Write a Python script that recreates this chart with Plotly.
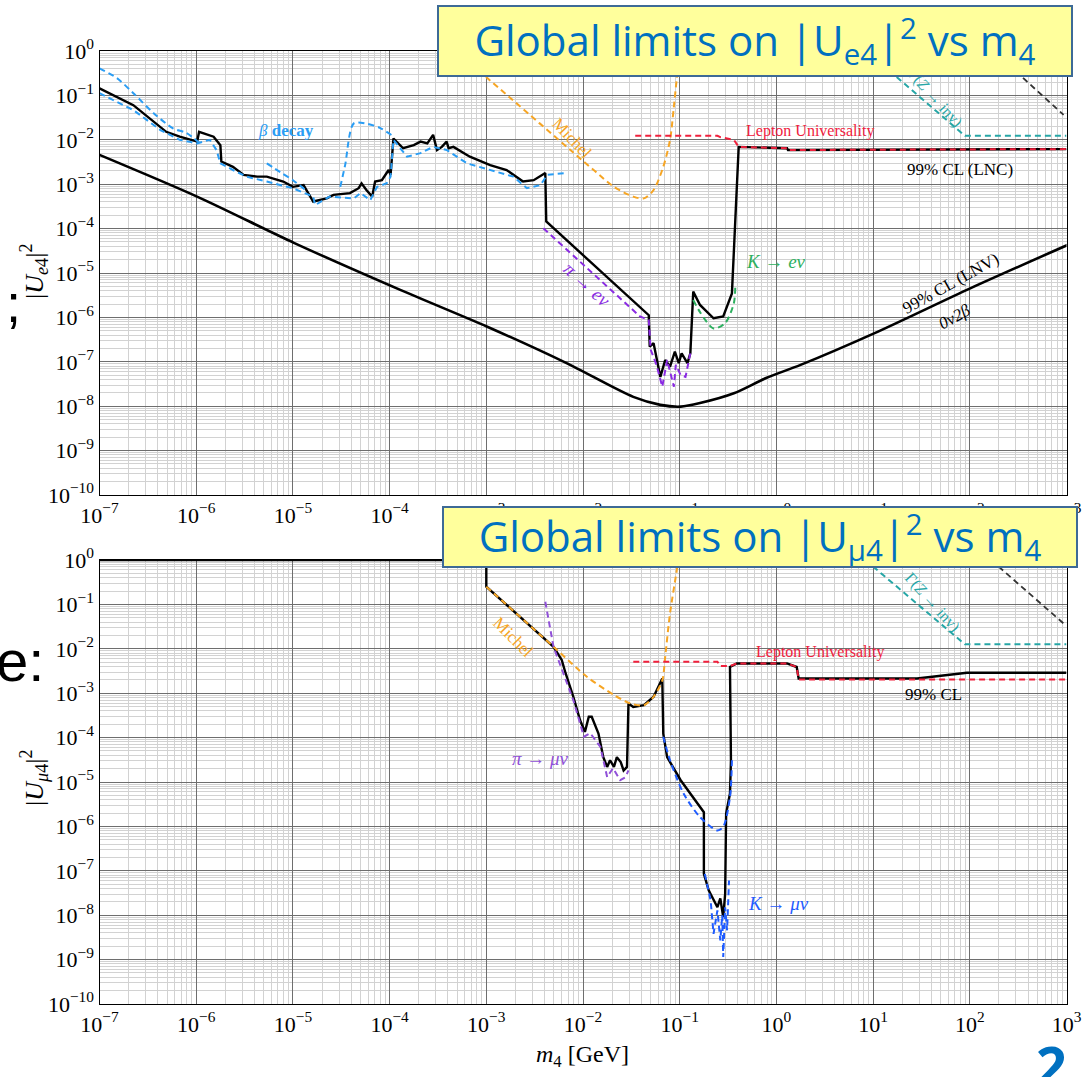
import numpy as np
import plotly.graph_objects as go

W, H = 1086, 1077

# ---------------- DATA (log10 m4 [GeV], log10 |U|^2) ----------------
# Top panel: |U_e4|^2
e_lnc = [(-7.0,-0.84),(-6.65,-1.22),(-6.31,-1.82),(-6.17,-1.93),(-5.99,-2.04),(-5.97,-1.82),
         (-5.82,-1.93),(-5.75,-2.12),(-5.74,-2.49),(-5.62,-2.61),(-5.51,-2.79),(-5.37,-2.83),
         (-5.27,-2.83),(-5.10,-2.94),(-5.00,-3.06),(-4.89,-3.02),(-4.79,-3.39),(-4.65,-3.32),
         (-4.58,-3.24),(-4.41,-3.20),(-4.32,-3.09),(-4.29,-2.98),(-4.24,-3.13),(-4.18,-3.28),
         (-4.15,-2.94),(-4.08,-2.91),(-4.01,-2.68),(-3.99,-2.79),(-3.96,-1.97),(-3.91,-2.08),
         (-3.86,-2.19),(-3.75,-2.12),(-3.68,-2.04),(-3.61,-2.08),(-3.55,-1.89),(-3.51,-2.23),
         (-3.46,-2.16),(-3.41,-2.04),(-3.39,-2.19),(-3.34,-2.16),(-3.17,-2.38),(-2.96,-2.57),
         (-2.79,-2.68),(-2.62,-2.94),(-2.51,-2.91),(-2.39,-2.75),(-2.38,-3.84),(-1.32,-5.95),
         (-1.31,-6.66),(-1.27,-6.58),(-1.20,-7.34),(-1.15,-6.96),(-1.10,-7.11),(-1.05,-6.77),
         (-1.01,-7.03),(-0.98,-6.81),(-0.92,-7.03),(-0.89,-6.81),(-0.86,-5.42),(-0.79,-5.72),
         (-0.65,-6.02),(-0.55,-5.98),(-0.46,-5.46),(-0.425,-3.81),(-0.39,-2.16),(0.11,-2.19),
         (0.12,-2.23),(3.0,-2.21)]
e_lnv = [(-7.0,-2.34),(-5.98,-3.29),(-4.99,-4.32),(-3.89,-5.38),(-2.99,-6.21),(-2.17,-7.03),
         (-1.48,-7.79),(-1.20,-7.97),(-0.99,-8.01),(-0.79,-7.93),(-0.44,-7.71),(-0.10,-7.36),
         (0.25,-7.07),(1.01,-6.36),(2.01,-5.34),(3.01,-4.37)]
e_lepton = [(-1.46,-1.91),(-0.61,-1.91),(-0.58,-1.94),(-0.44,-2.00),(-0.39,-2.16),(0.11,-2.19),
            (0.12,-2.23),(3.0,-2.21)]
e_michel = [(-3.32,0.0),(-2.99,-0.61),(-1.89,-2.68),(-1.68,-3.06),(-1.48,-3.28),(-1.37,-3.32),
            (-1.27,-3.13),(-1.17,-2.61),(-1.10,-2.00),(-1.06,-1.25),(-1.03,-0.61),(-1.00,0.0)]
e_beta_a = [(-7.0,-0.39),(-6.82,-0.61),(-6.65,-0.95),(-6.44,-1.40),(-6.24,-1.74),(-6.10,-1.85),
            (-5.96,-2.08)]
e_beta_b = [(-7.0,-0.95),(-6.65,-1.33),(-6.37,-1.78),(-6.17,-2.00),(-5.99,-2.08),(-5.86,-2.00),
            (-5.79,-2.23),(-5.75,-2.53),(-5.62,-2.68),(-5.48,-2.83),(-5.27,-2.94),(-5.00,-3.09),
            (-4.79,-3.28),(-4.77,-3.47),(-4.62,-3.28),(-4.37,-3.32),(-4.30,-3.20),(-4.20,-3.36),
            (-4.13,-3.06),(-4.03,-2.98),(-3.99,-2.83),(-3.96,-2.00),(-3.82,-2.38),(-3.68,-2.30),
            (-3.55,-2.16),(-3.41,-2.23),(-3.20,-2.53),(-2.96,-2.68),(-2.72,-2.83),(-2.58,-3.09),
            (-2.44,-3.02),(-2.37,-2.79),(-2.18,-2.75)]
e_beta_c = [(-5.27,-2.53),(-5.13,-2.73),(-5.00,-2.91),(-4.87,-3.13)]
e_beta_d = [(-4.51,-3.06),(-4.46,-2.57),(-4.37,-1.63),(-4.23,-1.64),(-4.10,-1.73),(-3.97,-1.91)]
e_pi = [(-2.41,-3.99),(-1.41,-5.98),(-1.32,-6.06),(-1.30,-6.73),(-1.24,-7.07),(-1.18,-7.56),
        (-1.13,-6.96),(-1.06,-7.56),(-1.04,-7.07),(-0.99,-7.30),(-0.94,-7.34),(-0.89,-6.81)]
e_k = [(-0.86,-5.61),(-0.79,-5.88),(-0.65,-6.25),(-0.53,-6.13),(-0.44,-5.68),(-0.425,-5.27)]
e_zinv = [(0.93,0.0),(1.94,-1.89),(1.95,-1.91),(3.0,-1.91)]
e_other = [(2.245,0.0),(2.97,-1.44)]

# Bottom panel: |U_mu4|^2
m_cl = [(-7.0,0.0),(-3.0,0.0),(-3.0,-0.60),(-2.305,-1.955),(-2.22,-2.25),(-2.18,-2.55),
        (-2.10,-3.08),(-2.03,-3.61),(-1.98,-3.87),(-1.94,-3.53),(-1.91,-3.53),(-1.84,-3.91),
        (-1.79,-4.44),(-1.75,-4.66),(-1.72,-4.51),(-1.68,-4.66),(-1.65,-4.44),(-1.61,-4.55),
        (-1.58,-4.74),(-1.545,-4.66),(-1.53,-3.23),(-1.48,-3.31),(-1.37,-3.27),(-1.27,-3.08),
        (-1.18,-2.67),(-1.17,-3.91),(-1.13,-4.44),(-0.99,-4.96),(-0.75,-5.68),(-0.75,-7.07),
        (-0.70,-7.44),(-0.65,-7.67),(-0.61,-7.82),(-0.58,-7.62),(-0.55,-8.04),(-0.53,-7.52),
        (-0.52,-5.71),(-0.48,-5.26),(-0.47,-4.51),(-0.48,-2.41),(-0.41,-2.33),(0.11,-2.33),
        (0.21,-2.41),(0.23,-2.67),(1.455,-2.67),(1.97,-2.54),(3.0,-2.54)]
m_lepton = [(-1.48,-2.29),(-0.61,-2.29),(-0.58,-2.39),(-0.48,-2.39),(-0.41,-2.33),(0.11,-2.33),
            (0.21,-2.41),(0.23,-2.69),(3.0,-2.69)]
m_michel = [(-3.0,-0.60),(-2.305,-1.955),(-1.96,-2.63),(-1.68,-3.04),(-1.51,-3.23),(-1.37,-3.27),
            (-1.27,-3.08),(-1.18,-2.71),(-1.15,-2.18),(-1.10,-1.20),(-1.03,-0.23),(-1.015,0.0)]
m_pi = [(-2.39,-0.94),(-2.305,-1.955),(-2.10,-3.16),(-1.99,-3.98),(-1.925,-3.90),(-1.82,-4.21),
        (-1.75,-4.89),(-1.69,-4.69),(-1.615,-4.96),(-1.56,-4.89),(-1.53,-4.74)]
m_k_a = [(-1.17,-3.98),(-1.10,-4.51),(-0.96,-5.26),(-0.79,-5.79),(-0.61,-6.09),(-0.55,-6.01),
         (-0.48,-5.34),(-0.46,-4.51)]
m_k_b = [(-0.74,-7.07),(-0.68,-7.67),(-0.65,-8.42),(-0.61,-7.89),(-0.58,-8.57),(-0.56,-8.00),
         (-0.55,-8.94),(-0.53,-7.82),(-0.51,-8.34),(-0.49,-7.22)]
m_zinv = [(0.92,0.0),(1.94,-1.88),(1.95,-1.90),(3.0,-1.90)]
m_other = [(2.22,0.0),(2.97,-1.43)]

# tick labels
x_exps = list(range(-7, 4))
y_exps = list(range(-10, 1))

def lab(k):
    return "10<sup>%s</sup>" % (str(k).replace("-", "\u2212"))

# ---------------- COLOURS ----------------
BLACK = "#000000"
BLUE = "#2a9df4"
ORANGE = "#f6a524"
RED = "#f0203c"
PURPLE = "#8a2be2"
PURPLE2 = "#9050d8"
GREEN = "#2eb060"
TEAL = "#26a6a6"
KBLUE = "#1f5cff"
DASH = "6px,4px"

fig = go.Figure()

def add(pts, xa, ya, color, width=2.0, dash=DASH, shape="linear"):
    a = np.array(pts, dtype=float)
    line = dict(color=color, width=width, dash=dash, shape=shape)
    if shape == "spline":
        line["smoothing"] = 0.8
    fig.add_trace(go.Scatter(x=10.0 ** a[:, 0], y=10.0 ** a[:, 1], mode="lines",
                             line=line, xaxis=xa, yaxis=ya, showlegend=False,
                             hoverinfo="skip"))

# top panel
add(e_lnv, "x", "y", BLACK, 2.6, "solid", "spline")
add(e_lnc, "x", "y", BLACK, 2.4, "solid")
add(e_beta_a, "x", "y", BLUE, shape="spline")
add(e_beta_b, "x", "y", BLUE)
add(e_beta_c, "x", "y", BLUE, shape="spline")
add(e_beta_d, "x", "y", BLUE, shape="spline")
add(e_michel, "x", "y", ORANGE, shape="spline")
add(e_pi, "x", "y", PURPLE)
add(e_k, "x", "y", GREEN, shape="spline")
add(e_lepton, "x", "y", RED)
add(e_zinv, "x", "y", TEAL)
add(e_other, "x", "y", "#333333", 1.8)

# bottom panel
add(m_cl, "x2", "y2", BLACK, 2.4, "solid")
add(m_michel, "x2", "y2", ORANGE, shape="spline")
add(m_pi, "x2", "y2", PURPLE2)
add(m_k_a, "x2", "y2", KBLUE, shape="spline")
add(m_k_b, "x2", "y2", KBLUE)
add(m_lepton, "x2", "y2", RED)
add(m_zinv, "x2", "y2", TEAL)
add(m_other, "x2", "y2", "#333333", 1.8)

# ---------------- AXES ----------------
xd = [99.5 / W, 1066.5 / W]
top_d = [1 - 495 / H, 1 - 51 / H]
bot_d = [1 - 1004 / H, 1 - 560 / H]
minor_x = [m * 10.0 ** k for k in range(-7, 3) for m in range(2, 10)]
minor_y = [m * 10.0 ** k for k in range(-10, 0) for m in range(2, 10)]
TICKFONT = dict(family="Liberation Serif", size=22, color="black")

def xax(anchor):
    return dict(type="log", range=[-7, 3], domain=xd, anchor=anchor, automargin=False,
                showline=True, linecolor="black", linewidth=1.2, mirror=True,
                showgrid=True, gridcolor="#6e6e6e", gridwidth=1, zeroline=False,
                tickmode="array", tickvals=[10.0 ** k for k in x_exps],
                ticktext=[lab(k) for k in x_exps], tickfont=TICKFONT, ticks="",
                minor=dict(tickmode="array", tickvals=minor_x, showgrid=True,
                           gridcolor="#d2d2d2", gridwidth=1, ticks=""))

def yax(anchor, dom):
    return dict(type="log", range=[-10, 0], domain=dom, anchor=anchor, automargin=False,
                showline=True, linecolor="black", linewidth=1.2, mirror=True,
                showgrid=True, gridcolor="#6e6e6e", gridwidth=1, zeroline=False,
                tickmode="array", tickvals=[10.0 ** k for k in y_exps],
                ticktext=[lab(k) for k in y_exps], tickfont=TICKFONT, ticks="",
                minor=dict(tickmode="array", tickvals=minor_y, showgrid=True,
                           gridcolor="#d2d2d2", gridwidth=1, ticks=""))

SERIF = "Liberation Serif"
ann = []

def txt(x, y, t, color, size=17, angle=0, xr="x", yr="y"):
    ann.append(dict(x=x, y=y, xref=xr, yref=yr, text=t, showarrow=False, textangle=angle,
                    font=dict(family=SERIF, size=size, color=color),
                    xanchor="center", yanchor="middle"))

# top panel labels (positions in log10 units)
txt(-5.07, -1.78, "<i>β</i> <b>decay</b>", BLUE, 17)
txt(-2.11, -1.96, "Michel", ORANGE, 17, 46)
txt(0.35, -1.80, "Lepton Universality", RED, 16)
txt(1.90, -2.68, "99% CL (LNC)", BLACK, 17)
txt(-1.96, -5.27, "<i>π → eν</i>", PURPLE, 19, 42)
txt(0.0, -4.75, "<i>K → eν</i>", GREEN, 19)
txt(1.80, -5.23, "99% CL (LNV)", BLACK, 17, -29)
txt(1.85, -5.99, "<i>0ν2β</i>", BLACK, 17, -29)
txt(1.64, -1.06, "Γ(<i>Z</i> → inv)", TEAL, 16, 48)
# bottom panel labels
txt(-2.72, -1.74, "Michel", ORANGE, 17, 45, "x2", "y2")
txt(-2.44, -4.46, "<i>π → μν</i>", PURPLE2, 19, 0, "x2", "y2")
txt(0.02, -7.74, "<i>K → μν</i>", KBLUE, 19, 0, "x2", "y2")
txt(0.45, -2.07, "Lepton Universality", RED, 16, 0, "x2", "y2")
txt(1.62, -3.04, "99% CL", BLACK, 17, 0, "x2", "y2")
txt(1.61, -0.94, "Γ(<i>Z</i> → inv)", TEAL, 16, 48, "x2", "y2")

def pax(px, py, t, size, color="black", family=SERIF, angle=0, xa="center", ya="middle", **kw):
    d = dict(x=px / W, y=1 - py / H, xref="paper", yref="paper", text=t, showarrow=False,
             textangle=angle, font=dict(family=family, size=size, color=color),
             xanchor=xa, yanchor=ya)
    d.update(kw)
    ann.append(d)

# axis titles
pax(34, 272, "|<i>U</i><sub><i>e</i>4</sub>|<sup>2</sup>", 26, angle=-90)
pax(34, 778, "|<i>U</i><sub><i>μ</i>4</sub>|<sup>2</sup>", 26, angle=-90)
pax(582, 1056, "<i>m</i><sub>4</sub> [GeV]", 24)

# slide remnants around the chart
pax(13, 303, ";", 54, family="Liberation Sans")
pax(46, 660, "e:", 58, family="Liberation Sans", xa="right")
pax(1051, 1026, "<b>2</b>", 54, color="#0070C0", family="Open Sans", ya="top")

# yellow title boxes (drawn last so they cover everything below)
pax(755, 41, "Global limits on |U<sub>e4</sub>|<sup>2</sup> vs m<sub>4</sub>", 42,
    color="#0070C0", family="Open Sans", bgcolor="#ffff9c", bordercolor="#3d6a96",
    borderwidth=2, borderpad=0, width=632, height=68)
pax(760, 537, "Global limits on |U<sub>μ4</sub>|<sup>2</sup> vs m<sub>4</sub>", 42,
    color="#0070C0", family="Open Sans", bgcolor="#ffff9c", bordercolor="#3d6a96",
    borderwidth=2, borderpad=0, width=632, height=58)

fig.update_layout(
    width=W, height=H, margin=dict(l=0, r=0, t=0, b=0, autoexpand=False),
    paper_bgcolor="white", plot_bgcolor="white", showlegend=False,
    xaxis=xax("y"), yaxis=yax("x", top_d),
    xaxis2=xax("y2"), yaxis2=yax("x2", bot_d),
    annotations=ann,
)

fig.write_html("out.html")
